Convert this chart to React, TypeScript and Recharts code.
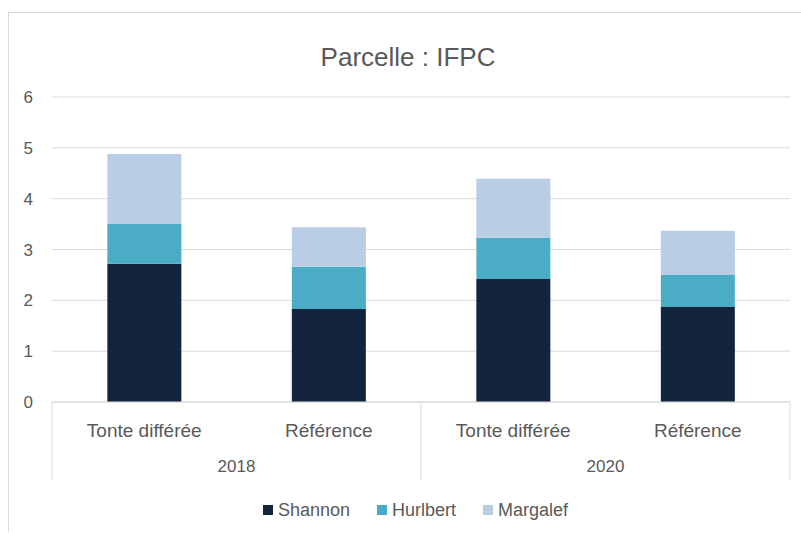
import React from 'react';
import { BarChart, Bar, XAxis, YAxis, CartesianGrid, Legend } from 'recharts';

// values
const treatments = ['Tonte différée', 'Référence', 'Tonte différée', 'Référence'];
const years = ['2018', '2018', '2020', '2020'];
const seriesNames = ['Shannon', 'Hurlbert', 'Margalef'];
const shannon = [2.72, 1.83, 2.42, 1.87];
const hurlbert = [0.78, 0.83, 0.81, 0.63];
const margalef = [1.38, 0.78, 1.16, 0.87];
const yTicks = [0, 1, 2, 3, 4, 5, 6];

const chartData = treatments.map((t, i) => ({
    treatment: t,
    year: years[i],
    Shannon: shannon[i],
    Hurlbert: hurlbert[i],
    Margalef: margalef[i],
}));

const TEXT = '#595959';
const GRID = '#d9d9d9';
const FONT = '"Liberation Sans", Arial, sans-serif';

// two-level category axis: treatment on top, year group below with separators
const CategoryTick = (props: any) => {
    const { x, y, payload, width, visibleTicksCount } = props;
    const index = payload.index ?? props.index;
    const band = width / visibleTicksCount;
    const row = chartData[index];
    const first = index % 2 === 0;
    const last = index === chartData.length - 1;
    return (
        <g>
            <text x={x} y={y + 28} textAnchor="middle" dominantBaseline="central" fill={TEXT} fontSize={19} fontFamily={FONT}>
                {payload.value}
            </text>
            {first && (
                <>
                    <line x1={x - band / 2} x2={x - band / 2} y1={y} y2={y + 78} stroke={GRID} />
                    <text x={x + band / 2} y={y + 64} textAnchor="middle" dominantBaseline="central" fill={TEXT} fontSize={17} fontFamily={FONT}>
                        {row.year}
                    </text>
                </>
            )}
            {last && <line x1={x + band / 2} x2={x + band / 2} y1={y} y2={y + 78} stroke={GRID} />}
        </g>
    );
};

const LegendContent = (props: any) => {
    const items = [...(props.payload || [])].sort(
        (a: any, b: any) => seriesNames.indexOf(a.value) - seriesNames.indexOf(b.value)
    );
    return (
        <div style={{ display: 'flex', justifyContent: 'center', alignItems: 'center', height: 30, gap: 27, paddingLeft: 32, fontFamily: FONT, fontSize: 18, color: TEXT }}>
            {items.map((p: any) => (
                <div key={p.value} style={{ display: 'flex', alignItems: 'center', gap: 5 }}>
                    <span style={{ width: 10, height: 10, background: p.color, display: 'inline-block' }} />
                    <span>{p.value}</span>
                </div>
            ))}
        </div>
    );
};

export default function App() {
    return (
        <div style={{ position: 'absolute', left: 8, top: 12, width: 793, height: 520, boxSizing: 'border-box', borderLeft: `1px solid ${GRID}`, borderTop: `1px solid ${GRID}`, background: '#fff' }}>
            <div style={{ position: 'absolute', top: 28, left: 0, right: 0, paddingLeft: 6, textAlign: 'center', fontFamily: FONT, fontSize: 26, color: TEXT, lineHeight: '32px' }}>
                Parcelle : IFPC
            </div>
            <BarChart width={792} height={519} data={chartData} margin={{ top: 84, right: 11, left: 0, bottom: 7 }} barCategoryGap="30%">
                <CartesianGrid vertical={false} stroke={GRID} />
                <XAxis
                    dataKey="treatment"
                    height={93}
                    interval={0}
                    tickLine={false}
                    tickSize={0}
                    tickMargin={0}
                    axisLine={{ stroke: GRID }}
                    tick={<CategoryTick />}
                />
                <YAxis
                    width={43}
                    domain={[0, 6]}
                    ticks={yTicks}
                    axisLine={false}
                    tickLine={false}
                    tickSize={0}
                    tickMargin={19}
                    tick={{ fill: TEXT, fontSize: 17, fontFamily: FONT }}
                />
                <Legend verticalAlign="bottom" height={30} content={<LegendContent />} />
                <Bar dataKey="Shannon" stackId="a" fill="#12243e" isAnimationActive={false} />
                <Bar dataKey="Hurlbert" stackId="a" fill="#4bacc6" isAnimationActive={false} />
                <Bar dataKey="Margalef" stackId="a" fill="#b9cde5" isAnimationActive={false} />
            </BarChart>
        </div>
    );
}
